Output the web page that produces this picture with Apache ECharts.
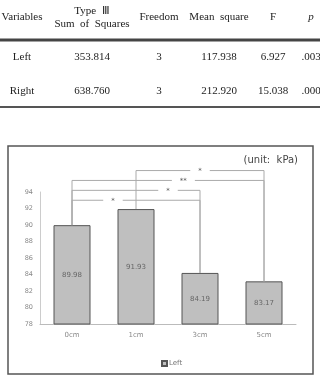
<!DOCTYPE html>
<html>
<head>
<meta charset="utf-8">
<script src="https://cdn.jsdelivr.net/npm/echarts@6/dist/echarts.min.js"></script>
<style>html,body{margin:0;padding:0;background:#fff}#main{width:320px;height:378px}</style>
</head>
<body>
<div id="main"></div>
<script>
// table
var tableHeaders = [['Variables'], ['Type  Ⅲ', 'Sum  of  Squares'], ['Freedom'], ['Mean  square'], ['F'], ['p']];
var rowNames = ['Left', 'Right'];
var sumSquares = ['353.814', '638.760'];
var freedom = ['3', '3'];
var meanSquare = ['117.938', '212.920'];
var fValues = ['6.927', '15.038'];
var pValues = ['.003', '.000'];

// chart
var categories = ['0cm', '1cm', '3cm', '5cm'];
var leftValues = [89.98, 91.93, 84.19, 83.17];

// significance brackets
var bracketFrom = [1, 0, 0, 0];
var bracketTo = [3, 3, 2, 2];
var bracketLevel = [96.6, 95.4, 94.2, 93.0];
var bracketMarks = ['*', '**', '*', '*'];
var markPos = [0.5, 0.58, 0.75, 0.32];

var chart = echarts.init(document.getElementById('main'));
var option = {
    animation: false,
    grid: {left: 40, right: 24, top: 192, bottom: 54},
    legend: {
        data: ['Left'],
        left: 156,
        top: 355,
        icon: 'rect',
        itemWidth: 5,
        itemHeight: 5,
        itemGap: 2,
        textStyle: {fontSize: 7, color: '#777', fontFamily: 'DejaVu Sans', padding: [0, 0, 0, -3]}
    },
    xAxis: {
        type: 'category',
        data: categories,
        axisLine: {lineStyle: {color: '#bbb'}},
        axisTick: {show: false},
        axisLabel: {fontSize: 7, color: '#888', margin: 8, fontFamily: 'DejaVu Sans'}
    },
    yAxis: {
        type: 'value',
        min: 78,
        max: 94,
        interval: 2,
        axisLine: {show: true, lineStyle: {color: '#ccc'}},
        axisTick: {show: false},
        splitLine: {show: false},
        axisLabel: {fontSize: 6.5, color: '#888', margin: 7, fontFamily: 'DejaVu Sans'}
    },
    series: [{
        name: 'Left',
        type: 'bar',
        data: leftValues,
        barWidth: 37,
        itemStyle: {color: '#bfbfbf', borderColor: '#555', borderWidth: 1},
        label: {show: true, position: 'inside', fontSize: 7, color: '#666', fontFamily: 'DejaVu Sans'}
    }]
};
chart.setOption(option);

var graphics = [];
var colX = [22, 92, 159, 219, 273, 311];
var serif = 'Liberation Serif';

// table header
tableHeaders.forEach(function (h, i) {
    var lines = h.length;
    h.forEach(function (t, j) {
        graphics.push({
            type: 'text',
            style: {
                text: t, x: colX[i], y: lines === 1 ? 17 : (j === 0 ? 11 : 24),
                align: 'center', verticalAlign: 'middle', fill: '#222',
                font: (i === 5 ? 'italic ' : '') + '11px "' + serif + '"'
            }
        });
    });
});
var rowY = [57, 91];
rowNames.forEach(function (name, r) {
    var cells = [name, sumSquares[r], freedom[r], meanSquare[r], fValues[r], pValues[r]];
    cells.forEach(function (t, i) {
        graphics.push({
            type: 'text',
            style: {
                text: t, x: colX[i], y: rowY[r], align: 'center', verticalAlign: 'middle',
                fill: '#222', font: '11px "' + serif + '"'
            }
        });
    });
});
graphics.push({type: 'line', shape: {x1: 0, y1: 40, x2: 320, y2: 40}, style: {stroke: '#444', lineWidth: 3}});
graphics.push({type: 'line', shape: {x1: 0, y1: 107, x2: 320, y2: 107}, style: {stroke: '#555', lineWidth: 2}});

// chart frame
graphics.push({
    type: 'rect', shape: {x: 8, y: 146, width: 305, height: 228},
    style: {fill: 'none', stroke: '#555', lineWidth: 1.5}, z: -1
});
graphics.push({
    type: 'text',
    style: {text: '(unit:  kPa)', x: 298, y: 160, align: 'right', verticalAlign: 'middle',
        fill: '#444', font: '10px "DejaVu Sans"'}
});

// brackets
for (var b = 0; b < bracketFrom.length; b++) {
    var p1 = chart.convertToPixel({seriesIndex: 0}, [bracketFrom[b], leftValues[bracketFrom[b]]]);
    var p2 = chart.convertToPixel({seriesIndex: 0}, [bracketTo[b], leftValues[bracketTo[b]]]);
    var yl = chart.convertToPixel({seriesIndex: 0}, [bracketFrom[b], bracketLevel[b]])[1];
    graphics.push({
        type: 'polyline',
        shape: {points: [[p1[0], p1[1]], [p1[0], yl], [p2[0], yl], [p2[0], p2[1]]]},
        style: {fill: 'none', stroke: '#aaa', lineWidth: 1},
        z: 10
    });
    graphics.push({
        type: 'text',
        style: {
            text: bracketMarks[b], x: p1[0] + (p2[0] - p1[0]) * markPos[b], y: yl + 1,
            align: 'center', verticalAlign: 'middle', fill: '#555',
            font: '7px "DejaVu Sans"', backgroundColor: '#fff', padding: [1, 8]
        },
        z: 11
    });
}

chart.setOption({graphic: graphics});
</script>
</body>
</html>
